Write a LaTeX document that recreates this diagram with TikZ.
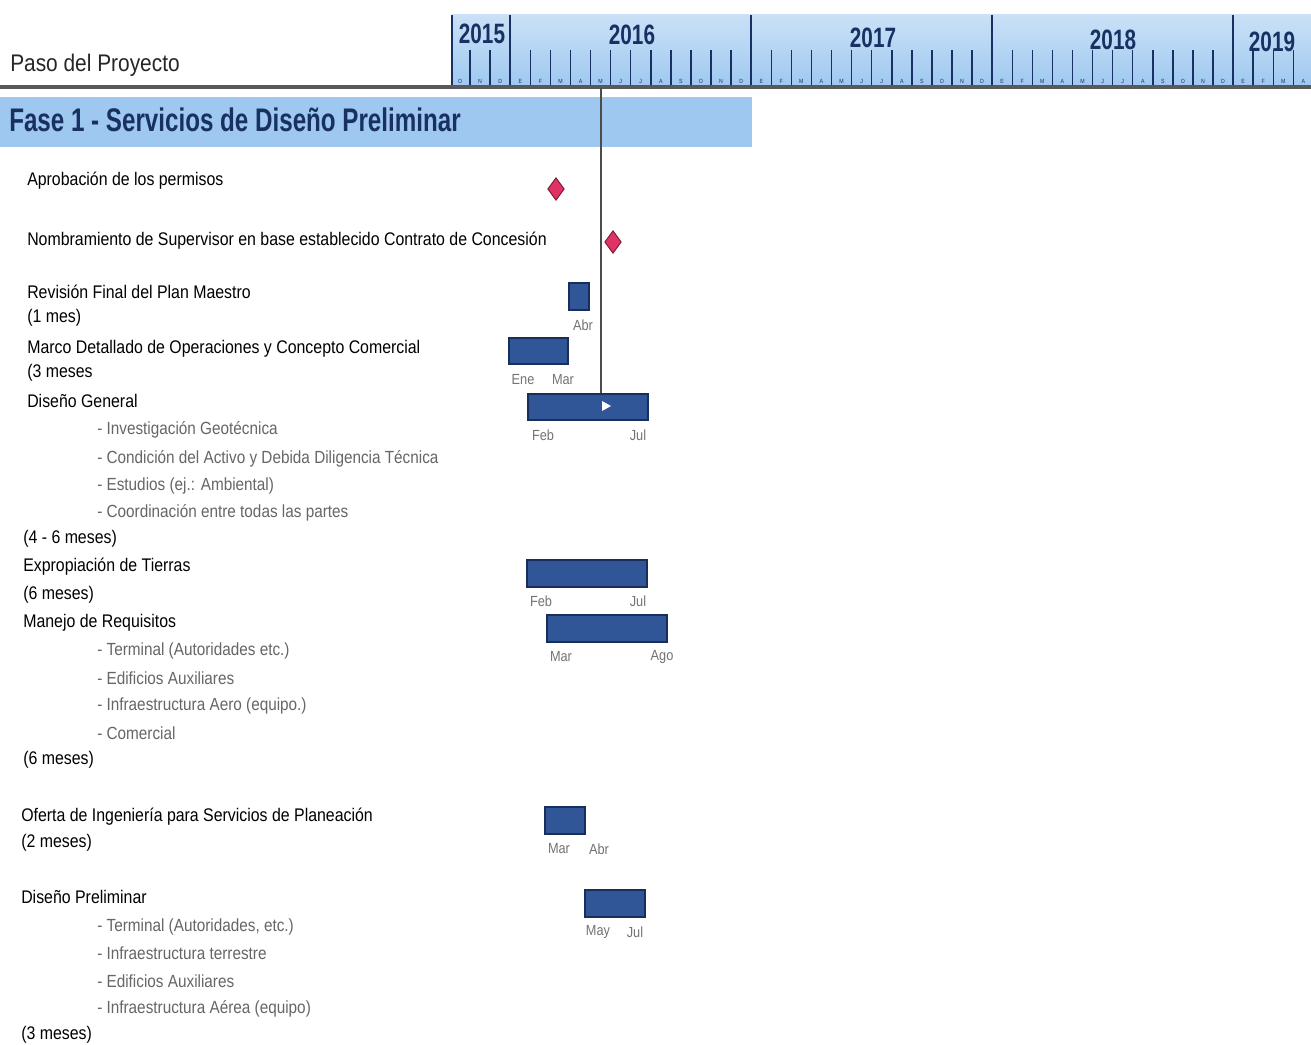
\documentclass[tikz,border=0pt]{standalone}
\usepackage{fontspec}
\setmainfont{Liberation Sans}[FakeStretch=0.87]
\newfontfamily\titlefont{Liberation Sans}[FakeStretch=0.74]
\usetikzlibrary{shapes.geometric}
\definecolor{hdrblue}{RGB}{158,200,240}
\definecolor{navy}{RGB}{24,48,98}
\definecolor{barblue}{RGB}{48,86,152}
\definecolor{bardark}{RGB}{26,46,92}
\definecolor{msred}{RGB}{224,50,100}

\begin{document}
\begin{tikzpicture}[x=0.75pt,y=-0.75pt,
    task/.style={anchor=west,inner sep=0pt,font=\fontsize{13.7}{15}\selectfont,text=black},
    sub/.style={task,font=\fontsize{13.2}{15}\selectfont,text=black!60},
    mon/.style={inner sep=0pt,font=\fontsize{11}{12}\selectfont,text=black!55},
    bar/.style={fill=barblue,draw=bardark,line width=1.3pt},
    milestone/.style={diamond,fill=msred,draw=msred!55!black,line width=0.7pt,minimum width=12.5pt,minimum height=17pt,inner sep=0pt},
    yr/.style={inner sep=0pt,font=\titlefont\bfseries\fontsize{21}{21}\selectfont,text=navy}]
    \useasboundingbox (0,0) rectangle (1311,1045);
    \fill[white] (0,0) rectangle (1311,1045);

    \shade[top color=hdrblue!55, bottom color=hdrblue] (452,15) rectangle (1311,88);
    \foreach \xd in {452,510.2,751.2,992.2,1233.1}
        \draw[navy, line width=1.4pt] (\xd,15) -- (\xd,88);
    \foreach \m in {1,...,42}
        \draw[navy, line width=1.1pt] ({450+\m*20.08},50) -- ({450+\m*20.08},86);
    \foreach \l [count=\i] in {O,N,D,E,F,M,A,M,J,J,A,S,O,N,D,E,F,M,A,M,J,J,A,S,O,N,D,E,F,M,A,M,J,J,A,S,O,N,D,E,F,M,A}
        \node[inner sep=0pt, font=\fontsize{4.5}{4.5}\selectfont, text=navy] (ml\i) at ({450+(\i-0.5)*20.08},81) {\l};
    \node[yr] (y15) at (482,34) {2015};
    \node[yr] (y16) at (632,35) {2016};
    \node[yr] (y17) at (873,38) {2017};
    \node[yr] (y18) at (1113,40) {2018};
    \node[yr] (y19) at (1272,42) {2019};
    \draw[black!65, line width=3pt] (0,87) -- (1311,87);
    \node[anchor=west, inner sep=0pt, font=\fontsize{18}{20}\selectfont, text=black!85] (paso) at (10,65) {Paso del Proyecto};

    \fill[hdrblue] (0,97) rectangle (752,147);
    \node[anchor=west, inner sep=0pt, font=\titlefont\bfseries\fontsize{24.5}{26}\selectfont, text=navy] (fase) at (9,120) {Fase 1 - Servicios de Diseño Preliminar};

    \draw[black!70, line width=1.5pt] (601,88) -- (601,400);

    \node[task] (aprob) at (27,181) {Aprobación de los permisos};
    \node[milestone] (ms1) at (556,189) {};
    \node[task] (nombr) at (27,241) {Nombramiento de Supervisor en base establecido Contrato de Concesión};
    \node[milestone] (ms2) at (613,242) {};

    \node[task] (revis) at (27,292) {Revisión Final del Plan Maestro};
    \node[task] (revisd) at (27,318) {(1 mes)};
    \draw[bar] (569,283) rectangle (589,310);
    \node[mon] (revisa) at (583,325) {Abr};

    \node[task] (marco) at (27,349) {Marco Detallado de Operaciones y Concepto Comercial};
    \node[task] (marcod) at (27,373) {(3 meses};
    \draw[bar] (509,338) rectangle (568,364);
    \node[mon] (marcoa) at (523,380) {Ene};
    \node[mon] (marcob) at (563,380) {Mar};

    \node[task] (dgen) at (27,401) {Diseño General};
    \node[sub] (dgen1) at (97,430) {- Investigación Geotécnica};
    \node[sub] (dgen2) at (97,459) {- Condición del Activo y Debida Diligencia Técnica};
    \node[sub] (dgen3) at (97,486) {- Estudios (ej.: Ambiental)};
    \node[sub] (dgen4) at (97,513) {- Coordinación entre todas las partes};
    \node[task] (dgend) at (23,539) {(4 - 6 meses)};
    \draw[bar] (528,394) rectangle (648,420);
    \fill[white] (602,401) -- (611,406) -- (602,411) -- cycle;
    \node[mon] (dgena) at (543,435) {Feb};
    \node[mon] (dgenb) at (638,435) {Jul};

    \node[task] (expro) at (23,567) {Expropiación de Tierras};
    \node[task] (exprod) at (23,595) {(6 meses)};
    \draw[bar] (527,560) rectangle (647,587);
    \node[mon] (exproa) at (541,601) {Feb};
    \node[mon] (exprob) at (638,601) {Jul};

    \node[task] (manej) at (23,623) {Manejo de Requisitos};
    \node[sub] (manej1) at (97,651) {- Terminal (Autoridades etc.)};
    \node[sub] (manej2) at (97,678) {- Edificios Auxiliares};
    \node[sub] (manej3) at (97,706) {- Infraestructura Aero (equipo.)};
    \node[sub] (manej4) at (97,733) {- Comercial};
    \node[task] (manejd) at (23,760) {(6 meses)};
    \draw[bar] (547,615) rectangle (667,642);
    \node[mon] (maneja) at (561,657) {Mar};
    \node[mon] (manejb) at (662,657) {Ago};

    \node[task] (ofert) at (21,817) {Oferta de Ingeniería para Servicios de Planeación};
    \node[task] (ofertd) at (21,843) {(2 meses)};
    \draw[bar] (545,807) rectangle (585,834);
    \node[mon] (oferta) at (559,849) {Mar};
    \node[mon] (ofertb) at (599,849) {Abr};

    \node[task] (dprel) at (21,897) {Diseño Preliminar};
    \node[sub] (dprel1) at (97,927) {- Terminal (Autoridades, etc.)};
    \node[sub] (dprel2) at (97,953) {- Infraestructura terrestre};
    \node[sub] (dprel3) at (97,981) {- Edificios Auxiliares};
    \node[sub] (dprel4) at (97,1009) {- Infraestructura Aérea (equipo)};
    \node[task] (dpreld) at (21,1035) {(3 meses)};
    \draw[bar] (585,890) rectangle (645,917);
    \node[mon] (dprela) at (598,932) {May};
    \node[mon] (dprelb) at (635,932) {Jul};
\end{tikzpicture}
\end{document}
